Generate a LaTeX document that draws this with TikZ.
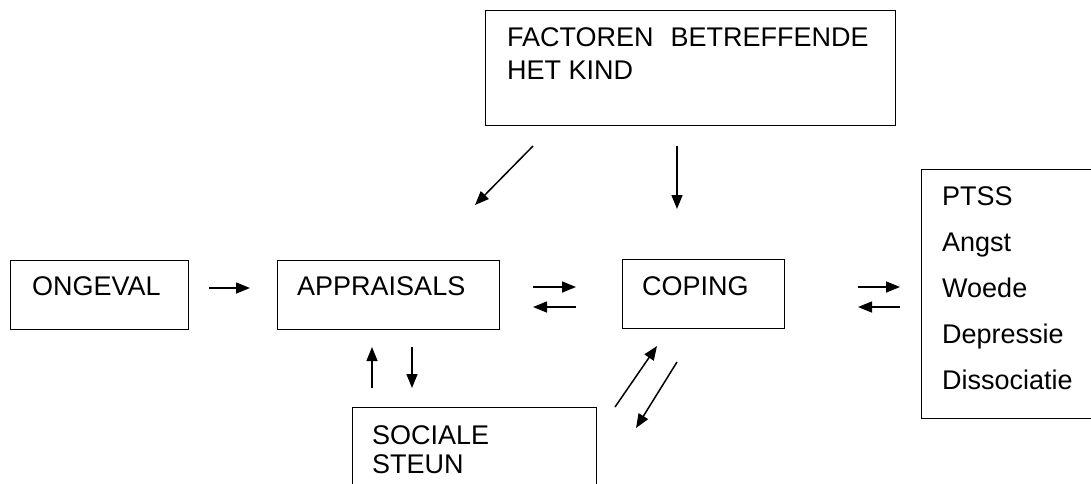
\documentclass[tikz,border=0pt]{standalone}
\usepackage{fontspec}
\setmainfont{Liberation Sans}
\usetikzlibrary{arrows.meta}
\tikzset{
  box/.style={draw, line width=1.4pt, inner sep=0pt, anchor=north west},
  txt/.style={anchor=base west, inner sep=0pt, font=\fontsize{27}{31}\selectfont},
  arr/.style={line width=1.5pt, -{Triangle[length=14pt,width=11pt]}},
}
\begin{document}
\begin{tikzpicture}[x=1pt,y=-1pt]
\clip (0,0) rectangle (1091,483);
\fill[white] (0,0) rectangle (1091,483);

% boxes
\node[box, minimum width=410pt, minimum height=115pt] (fact) at (485,10) {};
\node[box, minimum width=178pt, minimum height=69pt] (ong) at (10,260) {};
\node[box, minimum width=222pt, minimum height=69pt] (app) at (277,260) {};
\node[box, minimum width=162pt, minimum height=69pt] (cop) at (622,259) {};
\node[box, minimum width=190pt, minimum height=249pt] (ptss) at (921,169) {};
\node[box, minimum width=244pt, minimum height=100pt] (soc) at (352,407) {};

% texts
\node[txt] (t1) at (507,46) {FACTOREN\hspace{17pt}BETREFFENDE};
\node[txt] (t2) at (507,79) {HET KIND};
\node[txt] (t3) at (32,295) {ONGEVAL};
\node[txt] (t4) at (297,295) {APPRAISALS};
\node[txt] (t5) at (642,295) {COPING};
\node[txt] (t6) at (942,205) {PTSS};
\node[txt] (t7) at (942,251) {Angst};
\node[txt] (t8) at (942,297) {Woede};
\node[txt] (t9) at (942,343) {Depressie};
\node[txt] (t10) at (942,389) {Dissociatie};
\node[txt] (t11) at (372,444) {SOCIALE};
\node[txt] (t12) at (372,473) {STEUN};

% arrow end points
\coordinate (a1s) at (209,288);  \coordinate (a1e) at (250,288);
\coordinate (a2s) at (533,287);  \coordinate (a2e) at (576,287);
\coordinate (a3s) at (576,307);  \coordinate (a3e) at (533,307);
\coordinate (a4s) at (858,287);  \coordinate (a4e) at (900,287);
\coordinate (a5s) at (900,307);  \coordinate (a5e) at (858,307);
\coordinate (a6s) at (533,146);  \coordinate (a6e) at (475,205);
\coordinate (a7s) at (677,146);  \coordinate (a7e) at (677,209);
\coordinate (a8s) at (372,388);  \coordinate (a8e) at (372,347);
\coordinate (a9s) at (412,347);  \coordinate (a9e) at (412,388);
\coordinate (a10s) at (615,407); \coordinate (a10e) at (657,346);
\coordinate (a11s) at (677,362); \coordinate (a11e) at (636,428);

\draw[arr] (a1s) -- (a1e);
\draw[arr] (a2s) -- (a2e);
\draw[arr] (a3s) -- (a3e);
\draw[arr] (a4s) -- (a4e);
\draw[arr] (a5s) -- (a5e);
\draw[arr] (a6s) -- (a6e);
\draw[arr] (a7s) -- (a7e);
\draw[arr] (a8s) -- (a8e);
\draw[arr] (a9s) -- (a9e);
\draw[arr] (a10s) -- (a10e);
\draw[arr] (a11s) -- (a11e);
\end{tikzpicture}
\end{document}
